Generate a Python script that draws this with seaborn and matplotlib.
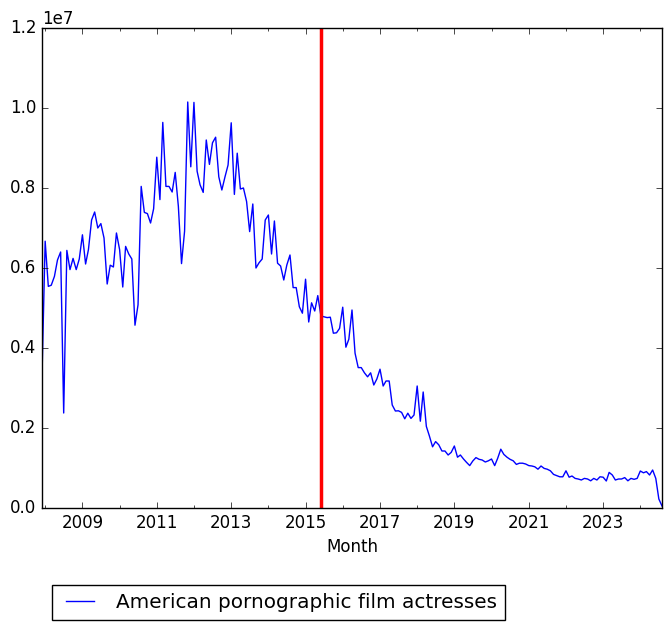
import matplotlib
matplotlib.use('Agg')
import matplotlib.pyplot as plt
import matplotlib.dates as mdates
import seaborn as sns
import pandas as pd
import numpy as np

plt.style.use('classic')

# ---- data ----
start_month = '2007-12-01'
series_label = 'American pornographic film actresses'
marker_month = '2015-06-01'
tick_years = ['2009', '2011', '2013', '2015', '2017', '2019', '2021', '2023']

# monthly page views, in millions
views_millions = [
    3.30, 6.67, 5.54, 5.57, 5.79, 6.20, 6.40, 2.375, 6.44, 5.96,
    6.24, 5.96, 6.225, 6.83, 6.10, 6.46, 7.20, 7.40, 7.00, 7.11,
    6.75, 5.60, 6.07, 6.025, 6.875, 6.46, 5.525, 6.54, 6.35, 6.225,
    4.57, 5.08, 8.04, 7.39, 7.36, 7.125, 7.48, 8.77, 7.71, 9.64,
    8.04, 8.04, 7.90, 8.39, 7.54, 6.11, 6.92, 10.15, 8.53, 10.14,
    8.42, 8.08, 7.89, 9.20, 8.59, 9.13, 9.27, 8.28, 7.95, 8.28,
    8.575, 9.63, 7.84, 8.87, 7.975, 8.00, 7.66, 6.91, 7.60, 6.00,
    6.13, 6.225, 7.20, 7.325, 6.35, 7.175, 6.12, 6.05, 5.70, 6.075,
    6.325, 5.51, 5.51, 5.03, 4.87, 5.72, 4.65, 5.13, 4.925, 5.31,
    4.80, 4.78, 4.76, 4.77, 4.37, 4.38, 4.49, 5.02, 4.02, 4.22,
    4.95, 3.87, 3.51, 3.51, 3.38, 3.28, 3.38, 3.075, 3.225, 3.47,
    3.05, 3.175, 3.175, 2.575, 2.425, 2.43, 2.39, 2.23, 2.37, 2.24,
    2.325, 3.05, 2.17, 2.90, 2.04, 1.80, 1.53, 1.66, 1.58, 1.425,
    1.425, 1.325, 1.39, 1.55, 1.27, 1.325, 1.225, 1.14, 1.06, 1.175,
    1.26, 1.217, 1.20, 1.15, 1.18, 1.225, 1.06, 1.24, 1.47, 1.34,
    1.27, 1.217, 1.18, 1.09, 1.12, 1.12, 1.10, 1.06, 1.05, 1.03,
    0.97, 1.05, 0.99, 0.97, 0.93, 0.84, 0.81, 0.78, 0.78, 0.93,
    0.77, 0.80, 0.74, 0.725, 0.70, 0.74, 0.725, 0.68, 0.74, 0.70,
    0.78, 0.77, 0.675, 0.89, 0.825, 0.70, 0.725, 0.725, 0.76, 0.68,
    0.74, 0.717, 0.74, 0.925, 0.88, 0.91, 0.825, 0.95, 0.74, 0.225,
    0.05,
]

months = pd.date_range(start_month, periods=len(views_millions), freq='MS')
df = pd.DataFrame({'Month': months, 'Views': np.array(views_millions) * 1e6})

# ---- figure ----
fig = plt.figure(figsize=(6.72, 6.3), dpi=100)
ax = fig.add_axes([42 / 672, 1 - 508 / 630, 620 / 672, 480 / 630])

sns.lineplot(data=df, x='Month', y='Views', ax=ax, color='b',
             linewidth=1.0, label=series_label)
ax.axvline(pd.Timestamp(marker_month), color='r', linewidth=2.5)

ax.set_xlim(df['Month'].min(), df['Month'].max())
ax.set_ylim(0, 1.2e7)
ax.set_ylabel('')
ax.set_xlabel('Month')

ax.set_xticks([pd.Timestamp(y + '-01-01') for y in tick_years])
ax.set_xticklabels(tick_years)
ax.xaxis.set_minor_locator(mdates.YearLocator())

ax.legend(loc='upper left', bbox_to_anchor=(0.016, -0.16),
          borderaxespad=0, fontsize='large')

fig.savefig('out.png', dpi=100)
